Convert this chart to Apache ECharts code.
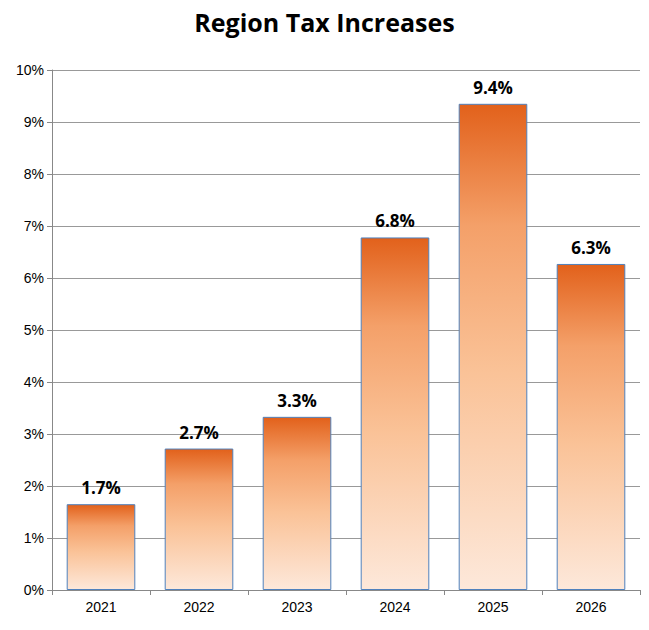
<!DOCTYPE html>
<html><head><meta charset="utf-8">
<script src="https://cdn.jsdelivr.net/npm/echarts@6/dist/echarts.min.js"></script>
<style>html,body{margin:0;background:#fff}#c{width:649px;height:630px}</style>
</head><body><div id="c"></div>
<script>
var years = ['2021', '2022', '2023', '2024', '2025', '2026'];
var increases = [1.65, 2.72, 3.33, 6.78, 9.35, 6.27];
var labels = ['1.7%', '2.7%', '3.3%', '6.8%', '9.4%', '6.3%'];

var chart = echarts.init(document.getElementById('c'), null, { renderer: 'svg' });
chart.setOption({
  animation: false,
  title: {
    text: 'Region Tax Increases', left: 'center', top: 4,
    textStyle: { fontFamily: 'Open Sans', fontWeight: 'bold', fontSize: 25, color: '#000' }
  },
  grid: { left: 52, right: 9, top: 70, bottom: 40 },
  xAxis: {
    type: 'category', data: years,
    axisLine: { lineStyle: { color: '#888' } },
    axisTick: { show: true, lineStyle: { color: '#888' } },
    axisLabel: { color: '#000', fontSize: 14, fontFamily: 'Liberation Sans', margin: 10 }
  },
  yAxis: {
    type: 'value', min: 0, max: 10, interval: 1,
    axisLine: { show: true, lineStyle: { color: '#888' } },
    axisTick: { show: true, lineStyle: { color: '#888' } },
    splitLine: { lineStyle: { color: '#999' } },
    axisLabel: { color: '#000', fontSize: 14, fontFamily: 'Liberation Sans', formatter: '{value}%' }
  },
  series: [{
    type: 'bar', barWidth: '70%',
    data: increases,
    itemStyle: {
      borderColor: '#4F81BD', borderWidth: 1,
      color: {
        type: 'linear', x: 0, y: 0, x2: 0, y2: 1,
        colorStops: [
          { offset: 0, color: '#E2611B' },
          { offset: 0.25, color: '#F4A069' },
          { offset: 0.55, color: '#FAC297' },
          { offset: 1, color: '#FDE8DA' }
        ]
      }
    },
    label: {
      show: true, position: 'top', distance: 8,
      formatter: function (p) { return labels[p.dataIndex]; },
      fontFamily: 'Open Sans', fontWeight: 'bold', fontSize: 17, color: '#000'
    }
  }]
});
</script></body></html>
